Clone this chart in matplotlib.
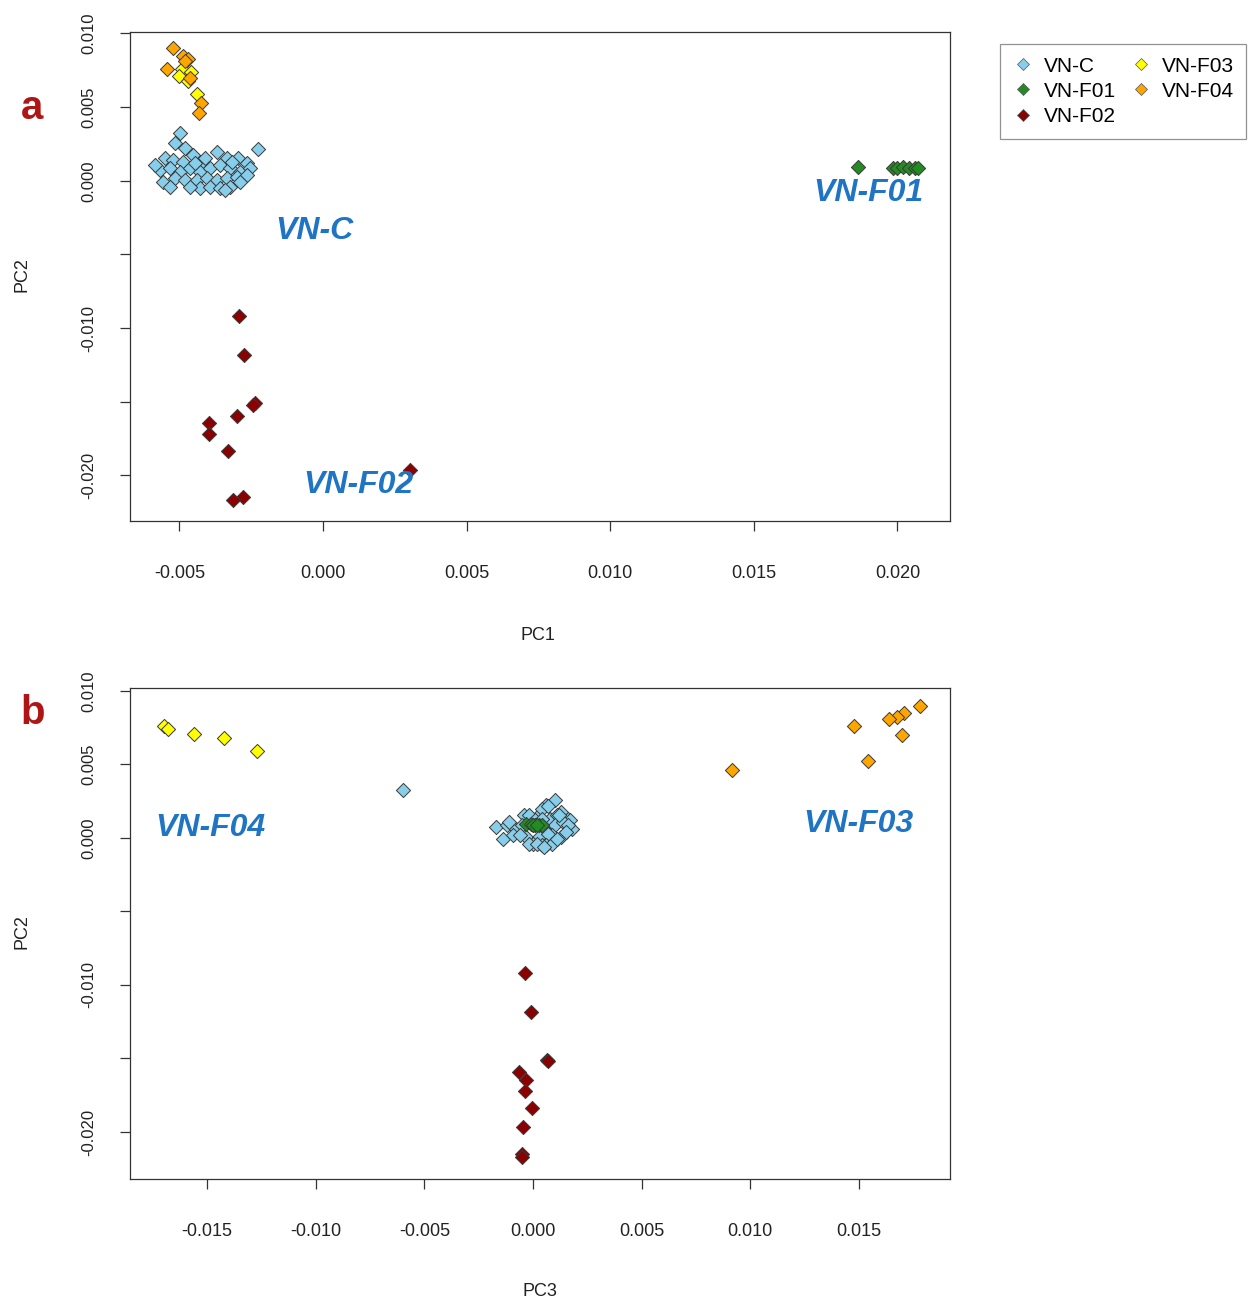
import matplotlib.pyplot as plt
from matplotlib.lines import Line2D

plt.rcParams['font.family'] = ['Liberation Sans', 'DejaVu Sans']

# ---- data: (PC1, PC2, PC3) per group ----
vnc_pc1 = [-0.00498, -0.00515, -0.00481, -0.00453, -0.00550, -0.00522, -0.00487, -0.00421,
           -0.00369, -0.00334, -0.00296, -0.00265, -0.00226, -0.00568, -0.00533, -0.00498,
           -0.00463, -0.00428, -0.00393, -0.00359, -0.00324, -0.00289, -0.00254, -0.00557,
           -0.00515, -0.00481, -0.00439, -0.00404, -0.00369, -0.00334, -0.00299, -0.00265,
           -0.00428, -0.00393, -0.00359, -0.00463, -0.00533, -0.00324, -0.00289, -0.00341,
           -0.00585, -0.00446, -0.00411, -0.00317]
vnc_pc2 = [0.00326, 0.00258, 0.00224, 0.00177, 0.00156, 0.00143, 0.00129, 0.00129,
           0.00197, 0.00156, 0.00156, 0.00122, 0.00217, 0.00075, 0.00088, 0.00061,
           0.00088, 0.00061, 0.00088, 0.00109, 0.00088, 0.00061, 0.00088, -0.00007,
           0.00020, 0.00007, 0.00007, 0.00020, 0.00007, 0.00020, 0.00027, 0.00041,
           -0.00048, -0.00041, -0.00048, -0.00041, -0.00041, -0.00041, -0.00007, -0.00061,
           0.00109, 0.00122, 0.00156, 0.00129]
vnc_pc3 = [-0.0060, 0.0010, 0.0006, 0.0013, -0.0004, 0.0002, 0.0016, 0.0008,
           0.0004, 0.0011, -0.0002, 0.0017, 0.0007, -0.0017, -0.0012, -0.0008,
           0.0000, 0.0005, 0.0010, 0.0014, -0.0005, 0.0018, 0.0016, -0.0014,
           -0.0009, -0.0003, 0.0003, 0.0009, 0.0013, -0.0006, 0.0007, 0.0015,
           0.0004, 0.0000, 0.0006, -0.0002, 0.0002, 0.0009, 0.0011, 0.0005,
           -0.0011, 0.0001, 0.0012, 0.0004]

f01_pc1 = [0.01863, 0.01985, 0.02000, 0.02020, 0.02040, 0.02060, 0.02070]
f01_pc2 = [0.00095, 0.00090, 0.00088, 0.00092, 0.00085, 0.00090, 0.00087]
f01_pc3 = [-0.0003, 0.0001, 0.0003, -0.0001, 0.0004, 0.0000, 0.0002]

f02_pc1 = [-0.00292, -0.00275, -0.00237, -0.00245, -0.00300, -0.00397, -0.00397,
           -0.00331, 0.00303, -0.00279, -0.00313]
f02_pc2 = [-0.00917, -0.01185, -0.01510, -0.01520, -0.01595, -0.01644, -0.01722,
           -0.01836, -0.01965, -0.02150, -0.02167]
f02_pc3 = [-0.00037, -0.00010, 0.00064, 0.00070, -0.00064, -0.00030, -0.00037,
           -0.00005, -0.00046, -0.00050, -0.00052]

f03_pc1 = [-0.00490, -0.00460, -0.00500, -0.00470, -0.00440]
f03_pc2 = [0.00760, 0.00740, 0.00710, 0.00680, 0.00590]
f03_pc3 = [-0.01700, -0.01680, -0.01560, -0.01420, -0.01270]

f04_pc1 = [-0.00522, -0.00487, -0.00470, -0.00480, -0.00543, -0.00463, -0.00425, -0.00432]
f04_pc2 = [0.00900, 0.00850, 0.00825, 0.00810, 0.00760, 0.00700, 0.00525, 0.00462]
f04_pc3 = [0.01782, 0.01708, 0.01676, 0.01639, 0.01478, 0.01699, 0.01542, 0.00916]

groups = ['VN-C', 'VN-F01', 'VN-F02', 'VN-F03', 'VN-F04']
colors = ['#87CEEB', '#228B22', '#8B0000', '#FFFF00', '#FFA500']
pc1 = [vnc_pc1, f01_pc1, f02_pc1, f03_pc1, f04_pc1]
pc2 = [vnc_pc2, f01_pc2, f02_pc2, f03_pc2, f04_pc2]
pc3 = [vnc_pc3, f01_pc3, f02_pc3, f03_pc3, f04_pc3]

y_ticks = [0.010, 0.005, 0.000, -0.005, -0.010, -0.015, -0.020]
y_labels = ['0.010', '0.005', '0.000', '', '-0.010', '', '-0.020']
xa_ticks = [-0.005, 0.000, 0.005, 0.010, 0.015, 0.020]
xb_ticks = [-0.015, -0.010, -0.005, 0.000, 0.005, 0.010, 0.015]

W, H = 1255, 1303
fig = plt.figure(figsize=(W / 100, H / 100), dpi=100)


def fx(px):
    return px / W


def fy(py):
    return 1 - py / H


def style_axes(ax, xticks):
    for s in ax.spines.values():
        s.set_color('#333333')
        s.set_linewidth(0.9)
    ax.set_yticks(y_ticks)
    ax.set_yticklabels(y_labels, rotation=90, va='center', fontsize=12, color='#222222')
    ax.set_xticks(xticks)
    ax.set_xticklabels(['%.3f' % t for t in xticks], fontsize=13, color='#222222')
    ax.tick_params(axis='y', length=7, width=0.9, color='#333333', pad=17)
    ax.tick_params(axis='x', length=7, width=0.9, color='#333333', pad=25)


mstyle = dict(marker='D', s=52, edgecolors='#3a3a3a', linewidths=0.7, zorder=3)

# panel a: PC1 vs PC2
ax1 = fig.add_axes([fx(130), fy(521), fx(950) - fx(130), fy(32) - fy(521)])
for xs, ys, c in zip(pc1, pc2, colors):
    ax1.scatter(xs, ys, c=c, **mstyle)
ax1.set_xlim(-0.00672, 0.02183)
ax1.set_ylim(-0.0231, 0.0101)
style_axes(ax1, xa_ticks)

# panel b: PC3 vs PC2
ax2 = fig.add_axes([fx(130), fy(1179), fx(950) - fx(130), fy(688) - fy(1179)])
for xs, ys, c in zip(pc3, pc2, colors):
    ax2.scatter(xs, ys, c=c, **mstyle)
ax2.set_xlim(-0.01855, 0.0192)
ax2.set_ylim(-0.0232, 0.0102)
style_axes(ax2, xb_ticks)

# group annotations
ann = dict(fontsize=23, fontweight='bold', fontstyle='italic', color='#1F74C4',
           ha='center', va='center', zorder=5)
fig.text(fx(314), fy(231), 'VN-C', **ann)
fig.text(fx(868), fy(193), 'VN-F01', **ann)
fig.text(fx(358), fy(485), 'VN-F02', **ann)
fig.text(fx(210), fy(828), 'VN-F04', **ann)
fig.text(fx(858), fy(824), 'VN-F03', **ann)

# panel letters
fig.text(fx(32), fy(108), 'a', fontsize=29, fontweight='bold', color='#B01515',
         ha='center', va='center')
fig.text(fx(33), fy(713), 'b', fontsize=29, fontweight='bold', color='#B01515',
         ha='center', va='center')

# axis titles
lab = dict(fontsize=13, color='#222222', ha='center', va='center')
fig.text(fx(538), fy(635), 'PC1', **lab)
fig.text(fx(22), fy(275), 'PC2', rotation=90, **lab)
fig.text(fx(540), fy(1292), 'PC3', **lab)
fig.text(fx(22), fy(932), 'PC2', rotation=90, **lab)

# legend
handles = [Line2D([], [], marker='D', linestyle='none', markersize=6,
                  markerfacecolor=c, markeredgecolor='#555555', markeredgewidth=0.5)
           for c in colors]
leg = fig.legend(handles, groups, loc='upper left', ncol=2,
                 bbox_to_anchor=(fx(1000), fy(44)), borderaxespad=0,
                 fontsize=15, frameon=True, fancybox=False, handlelength=1.0,
                 handletextpad=0.5, columnspacing=0.7, labelspacing=0.3,
                 borderpad=0.6)
leg.get_frame().set_edgecolor('#777777')
leg.get_frame().set_linewidth(0.9)

fig.savefig('out.png', dpi=100)
